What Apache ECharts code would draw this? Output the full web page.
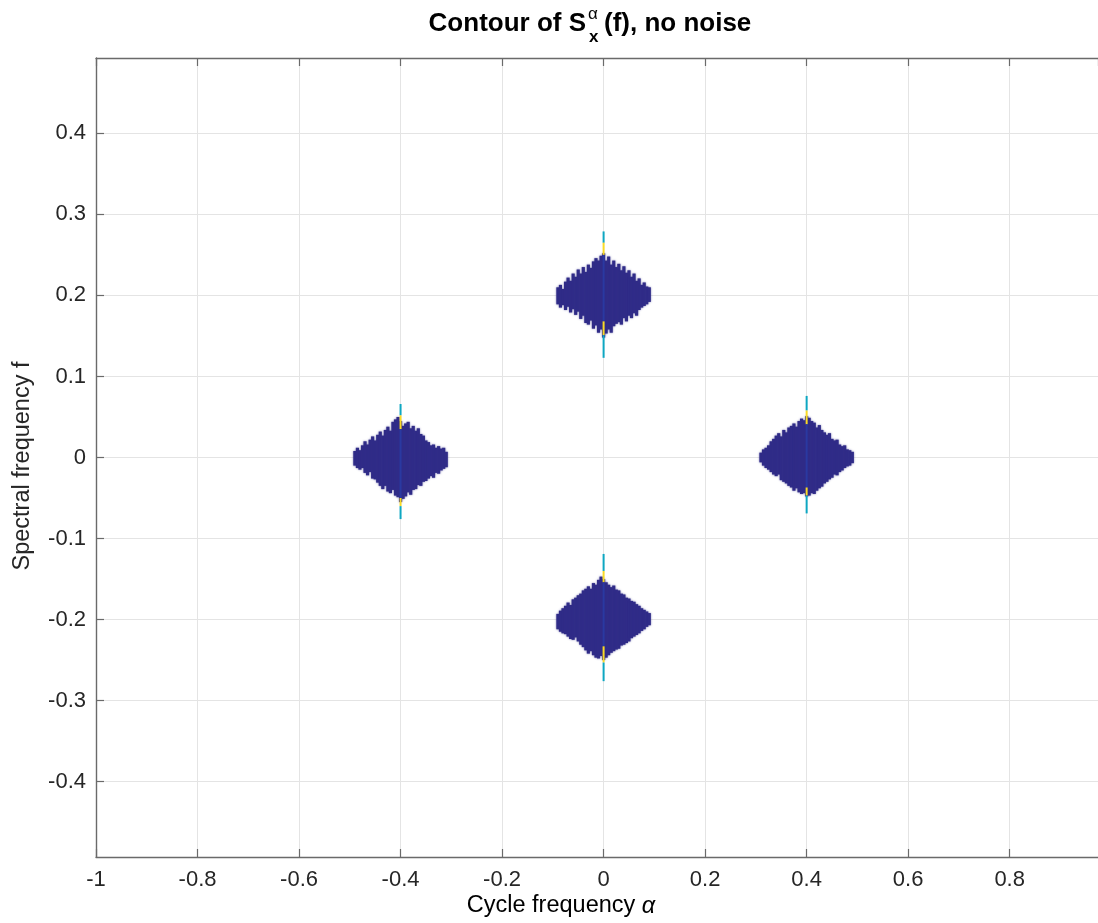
<!DOCTYPE html>
<html>
<head>
<meta charset="utf-8">
<script src="https://cdn.jsdelivr.net/npm/echarts@6/dist/echarts.min.js"></script>
<style>
html,body{margin:0;padding:0;background:#fff;}
#chart{width:1098px;height:923px;}
</style>
</head>
<body>
<div id="chart"></div>
<script>
// ---------------- DATA ----------------
const xTickValues = [-1, -0.8, -0.6, -0.4, -0.2, 0, 0.2, 0.4, 0.6, 0.8];
const yTickValues = [-0.4, -0.3, -0.2, -0.1, 0, 0.1, 0.2, 0.3, 0.4];

// alpha offsets of the contour columns relative to each blob centre
const alphaOffsets = [-0.090,-0.085,-0.080,-0.075,-0.070,-0.065,-0.060,-0.055,-0.050,-0.045,-0.040,-0.035,-0.030,-0.025,-0.020,-0.015,-0.010,-0.005,0.000,0.005,0.010,0.015,0.020,0.025,0.030,0.035,0.040,0.045,0.050,0.055,0.060,0.065,0.070,0.075,0.080,0.085,0.090];

// blob centres (cycle frequency alpha)
const blobAlpha = [0, -0.4, 0.4, 0];

// upper / lower spectral-frequency extents for each column
const topBlobHigh = [0.210,0.213,0.208,0.217,0.222,0.218,0.227,0.223,0.232,0.227,0.235,0.229,0.238,0.234,0.242,0.246,0.243,0.249,0.252,0.243,0.248,0.238,0.243,0.235,0.239,0.231,0.236,0.228,0.231,0.223,0.227,0.218,0.221,0.213,0.216,0.211,0.210];
const topBlobLow  = [0.189,0.185,0.188,0.182,0.186,0.179,0.183,0.176,0.180,0.171,0.175,0.166,0.164,0.169,0.159,0.163,0.154,0.158,0.148,0.153,0.158,0.154,0.162,0.165,0.167,0.164,0.172,0.168,0.175,0.172,0.178,0.175,0.182,0.185,0.187,0.189,0.192];

const leftBlobHigh = [0.008,0.012,0.009,0.015,0.020,0.016,0.022,0.026,0.021,0.028,0.032,0.027,0.034,0.038,0.033,0.044,0.047,0.050,0.045,0.039,0.042,0.044,0.036,0.039,0.033,0.036,0.029,0.027,0.021,0.019,0.015,0.016,0.012,0.014,0.011,0.012,0.007];
const leftBlobLow  = [-0.010,-0.013,-0.015,-0.013,-0.019,-0.022,-0.018,-0.026,-0.027,-0.031,-0.035,-0.039,-0.035,-0.042,-0.044,-0.040,-0.047,-0.049,-0.055,-0.051,-0.048,-0.043,-0.046,-0.040,-0.039,-0.034,-0.035,-0.030,-0.029,-0.026,-0.023,-0.025,-0.019,-0.020,-0.016,-0.014,-0.012];

const rightBlobHigh = [0.006,0.010,0.012,0.015,0.020,0.023,0.027,0.030,0.026,0.034,0.031,0.037,0.039,0.042,0.038,0.045,0.048,0.046,0.051,0.049,0.045,0.043,0.037,0.040,0.034,0.031,0.028,0.030,0.023,0.021,0.022,0.016,0.014,0.015,0.010,0.009,0.007];
const rightBlobLow  = [-0.006,-0.010,-0.013,-0.015,-0.018,-0.021,-0.023,-0.021,-0.028,-0.030,-0.032,-0.035,-0.037,-0.041,-0.038,-0.043,-0.045,-0.044,-0.048,-0.047,-0.044,-0.045,-0.041,-0.038,-0.036,-0.032,-0.030,-0.027,-0.025,-0.021,-0.022,-0.018,-0.016,-0.013,-0.011,-0.010,-0.007];

const bottomBlobHigh = [-0.193,-0.189,-0.186,-0.183,-0.179,-0.182,-0.175,-0.173,-0.170,-0.168,-0.164,-0.162,-0.159,-0.162,-0.155,-0.157,-0.151,-0.147,-0.150,-0.154,-0.157,-0.160,-0.158,-0.163,-0.164,-0.168,-0.169,-0.173,-0.174,-0.177,-0.178,-0.181,-0.183,-0.186,-0.188,-0.190,-0.192];
const bottomBlobLow  = [-0.212,-0.215,-0.217,-0.218,-0.221,-0.224,-0.225,-0.222,-0.227,-0.231,-0.234,-0.238,-0.242,-0.239,-0.244,-0.247,-0.248,-0.245,-0.250,-0.247,-0.244,-0.241,-0.239,-0.237,-0.236,-0.232,-0.231,-0.229,-0.227,-0.223,-0.221,-0.219,-0.217,-0.214,-0.212,-0.209,-0.207];

// centre-line spikes: [alpha, fLow, fHigh, contour level]
const spikeSegments = [
  [0, 0.265, 0.279, 0.35], [0, 0.250, 0.265, 0.85], [0, 0.168, 0.250, 0.03], [0, 0.151, 0.168, 0.85], [0, 0.123, 0.151, 0.35],
  [-0.4, 0.052, 0.066, 0.35], [-0.4, 0.035, 0.052, 0.85], [-0.4, -0.050, 0.035, 0.03], [-0.4, -0.060, -0.050, 0.85], [-0.4, -0.076, -0.060, 0.35],
  [0.4, 0.058, 0.076, 0.35], [0.4, 0.041, 0.058, 0.85], [0.4, -0.037, 0.041, 0.03], [0.4, -0.047, -0.037, 0.85], [0.4, -0.069, -0.047, 0.35],
  [0, -0.140, -0.119, 0.35], [0, -0.154, -0.140, 0.85], [0, -0.233, -0.154, 0.03], [0, -0.253, -0.233, 0.85], [0, -0.276, -0.253, 0.35]
];

// ---------------- BUILD ----------------
const blobHigh = [topBlobHigh, leftBlobHigh, rightBlobHigh, bottomBlobHigh];
const blobLow = [topBlobLow, leftBlobLow, rightBlobLow, bottomBlobLow];
const columnData = [];
blobAlpha.forEach((a0, b) => {
  alphaOffsets.forEach((off, i) => {
    columnData.push([+(a0 + off).toFixed(4), blobLow[b][i], blobHigh[b][i]]);
  });
});

const parulaStops = [
  [0.0,[53,42,135]],[0.1,[15,92,221]],[0.2,[18,125,216]],[0.3,[7,156,207]],
  [0.4,[21,177,180]],[0.5,[89,189,140]],[0.6,[165,190,107]],[0.7,[225,185,82]],
  [0.8,[252,206,46]],[0.9,[245,229,29]],[1.0,[249,251,14]]
];
function parula(t) {
  for (let i = 1; i < parulaStops.length; i++) {
    if (t <= parulaStops[i][0]) {
      const [t0, c0] = parulaStops[i-1], [t1, c1] = parulaStops[i];
      const k = (t - t0) / (t1 - t0);
      const c = c0.map((v, j) => Math.round(v + (c1[j] - v) * k));
      return 'rgb(' + c.join(',') + ')';
    }
  }
  return 'rgb(249,251,14)';
}

const FONT = '"Liberation Sans", Arial, Helvetica, sans-serif';
const TXT = '#262626';
const AXC = '#6a6a6a';
const BLOB = '#302c88';

const chart = echarts.init(document.getElementById('chart'), null, {renderer: 'canvas'});

function fmt(v) { return String(+v.toFixed(2)); }

const option = {
  backgroundColor: '#ffffff',
  animation: false,
  grid: {left: 96, top: 58, right: 0, height: 799, containLabel: false},
  xAxis: [{
    type: 'value', min: -1, max: 0.974, interval: 0.2, position: 'bottom',
    axisLine: {show: true, onZero: false, lineStyle: {color: AXC, width: 1.4}},
    axisTick: {show: true, inside: true, length: 8, lineStyle: {color: AXC, width: 1.2}},
    axisLabel: {show: true, margin: 12, fontSize: 22, color: TXT, fontFamily: FONT, showMaxLabel: false,
      formatter: v => xTickValues.some(t => Math.abs(t - v) < 1e-6) ? fmt(v) : ''},
    splitLine: {show: true, lineStyle: {color: '#e4e4e4', width: 1}}
  }, {
    type: 'value', min: -1, max: 0.974, interval: 0.2, position: 'top',
    axisLine: {show: true, onZero: false, lineStyle: {color: AXC, width: 1.4}},
    axisTick: {show: true, inside: true, length: 8, lineStyle: {color: AXC, width: 1.2}},
    axisLabel: {show: false}, splitLine: {show: false}
  }],
  yAxis: [{
    type: 'value', min: -0.493, max: 0.493, splitNumber: 10, minInterval: 0.1, maxInterval: 0.1,
    axisLine: {show: true, onZero: false, lineStyle: {color: AXC, width: 1.4}},
    axisTick: {show: true, inside: true, length: 8, lineStyle: {color: AXC, width: 1.2}},
    axisLabel: {show: true, margin: 10, fontSize: 22, color: TXT, fontFamily: FONT,
      showMinLabel: false, showMaxLabel: false,
      formatter: v => yTickValues.some(t => Math.abs(t - v) < 1e-6) ? fmt(v) : ''},
    splitLine: {show: true, lineStyle: {color: '#e4e4e4', width: 1}}
  }],
  graphic: [
    {type: 'text', x: 586, y: 24, style: {text: 'Contour of S', font: 'bold 26px ' + FONT, fill: '#000', align: 'right', verticalAlign: 'middle'}},
    {type: 'text', x: 588, y: 14, style: {text: 'α', font: '17px ' + FONT, fill: '#000', align: 'left', verticalAlign: 'middle'}},
    {type: 'text', x: 589, y: 37, style: {text: 'x', font: 'bold 17px ' + FONT, fill: '#000', align: 'left', verticalAlign: 'middle'}},
    {type: 'text', x: 604, y: 24, style: {text: '(f), no noise', font: 'bold 26px ' + FONT, fill: '#000', align: 'left', verticalAlign: 'middle'}},
    {type: 'text', x: 561, y: 906, style: {
      text: '{a|Cycle frequency }{g|α}', align: 'center', verticalAlign: 'middle',
      rich: {a: {fontSize: 23.5, fontFamily: FONT, color: TXT}, g: {fontSize: 23.5, fontStyle: 'italic', fontFamily: FONT, color: TXT}}}},
    {type: 'text', x: 23, y: 466, rotation: Math.PI / 2, style: {
      text: 'Spectral frequency f', font: '23.5px ' + FONT, fill: TXT, align: 'center', verticalAlign: 'middle'}}
  ],
  series: [{
    type: 'custom',
    name: 'contour',
    xAxisIndex: 0, yAxisIndex: 0,
    clip: true,
    data: columnData,
    renderItem: function (params, api) {
      const a = api.value(0), lo = api.value(1), hi = api.value(2);
      const w = api.size([0.005, 0])[0];
      const p1 = api.coord([a, hi]);
      const p2 = api.coord([a, lo]);
      return {
        type: 'rect',
        shape: {x: p1[0] - w / 2 - 0.3, y: p1[1], width: w + 0.6, height: p2[1] - p1[1]},
        style: {fill: BLOB, shadowBlur: 2, shadowColor: 'rgba(48,44,136,0.7)'}
      };
    }
  }, {
    type: 'custom',
    name: 'spikes',
    xAxisIndex: 0, yAxisIndex: 0,
    clip: true,
    data: spikeSegments,
    renderItem: function (params, api) {
      const a = api.value(0), lo = api.value(1), hi = api.value(2), lev = api.value(3);
      const p1 = api.coord([a, hi]);
      const p2 = api.coord([a, lo]);
      return {
        type: 'line',
        shape: {x1: p1[0], y1: p1[1], x2: p2[0], y2: p2[1]},
        style: {stroke: parula(lev), lineWidth: 2}
      };
    }
  }]
};
chart.setOption(option);
</script>
</body>
</html>
